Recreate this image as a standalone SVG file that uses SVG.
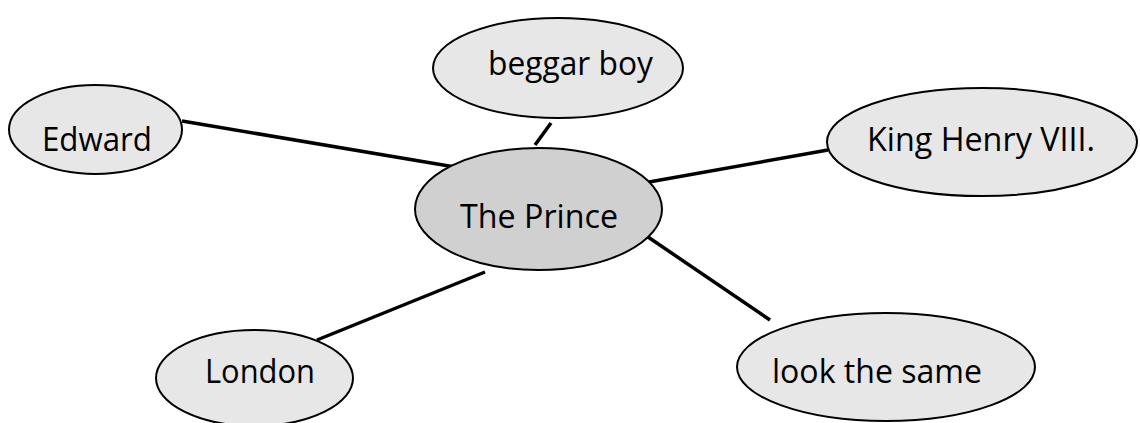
<svg xmlns="http://www.w3.org/2000/svg" width="1140" height="423" viewBox="0 0 1140 423">
  <style>
    .bubble { fill: #e7e7e7; stroke: #000; stroke-width: 2; }
    .hub { fill: #d0d0d0; stroke: #000; stroke-width: 2; }
    .label { font-family: "Open Sans", "Noto Sans", sans-serif; font-size: 32px; fill: #000; }
    .link { stroke: #000; stroke-width: 3.5; fill: none; }
  </style>
  <rect width="1140" height="423" fill="#fff"/>

  <!-- spokes from the centre bubble -->
  <g id="connectors">
    <line class="link" x1="182" y1="121" x2="455" y2="167"/>
    <line class="link" x1="551" y1="123" x2="535" y2="145"/>
    <line class="link" x1="649" y1="182" x2="828" y2="150"/>
    <line class="link" x1="648" y1="237" x2="770" y2="320"/>
    <line class="link" x1="485" y1="272" x2="317" y2="340"/>
  </g>

  <g id="edward">
    <ellipse class="bubble" cx="95.5" cy="129.5" rx="86.5" ry="44.5"/>
    <text class="label" x="42" y="151" textLength="110" lengthAdjust="spacingAndGlyphs">Edward</text>
  </g>

  <g id="beggar-boy">
    <ellipse class="bubble" cx="558" cy="68" rx="125" ry="50"/>
    <text class="label" x="488" y="75" textLength="165" lengthAdjust="spacingAndGlyphs">beggar boy</text>
  </g>

  <g id="king-henry">
    <ellipse class="bubble" cx="982" cy="142" rx="155" ry="54"/>
    <text class="label" x="867" y="151" textLength="228" lengthAdjust="spacingAndGlyphs">King Henry VIII.</text>
  </g>

  <g id="the-prince">
    <ellipse class="hub" cx="538.5" cy="209" rx="123.5" ry="61"/>
    <text class="label" x="460" y="228" textLength="158" lengthAdjust="spacingAndGlyphs">The Prince</text>
  </g>

  <g id="london">
    <ellipse class="bubble" cx="254.5" cy="378" rx="98.5" ry="48"/>
    <text class="label" x="205" y="383" textLength="110" lengthAdjust="spacingAndGlyphs">London</text>
  </g>

  <g id="look-the-same">
    <ellipse class="bubble" cx="886" cy="367" rx="149" ry="54"/>
    <text class="label" x="772" y="383" textLength="210" lengthAdjust="spacingAndGlyphs">look the same</text>
  </g>
</svg>
